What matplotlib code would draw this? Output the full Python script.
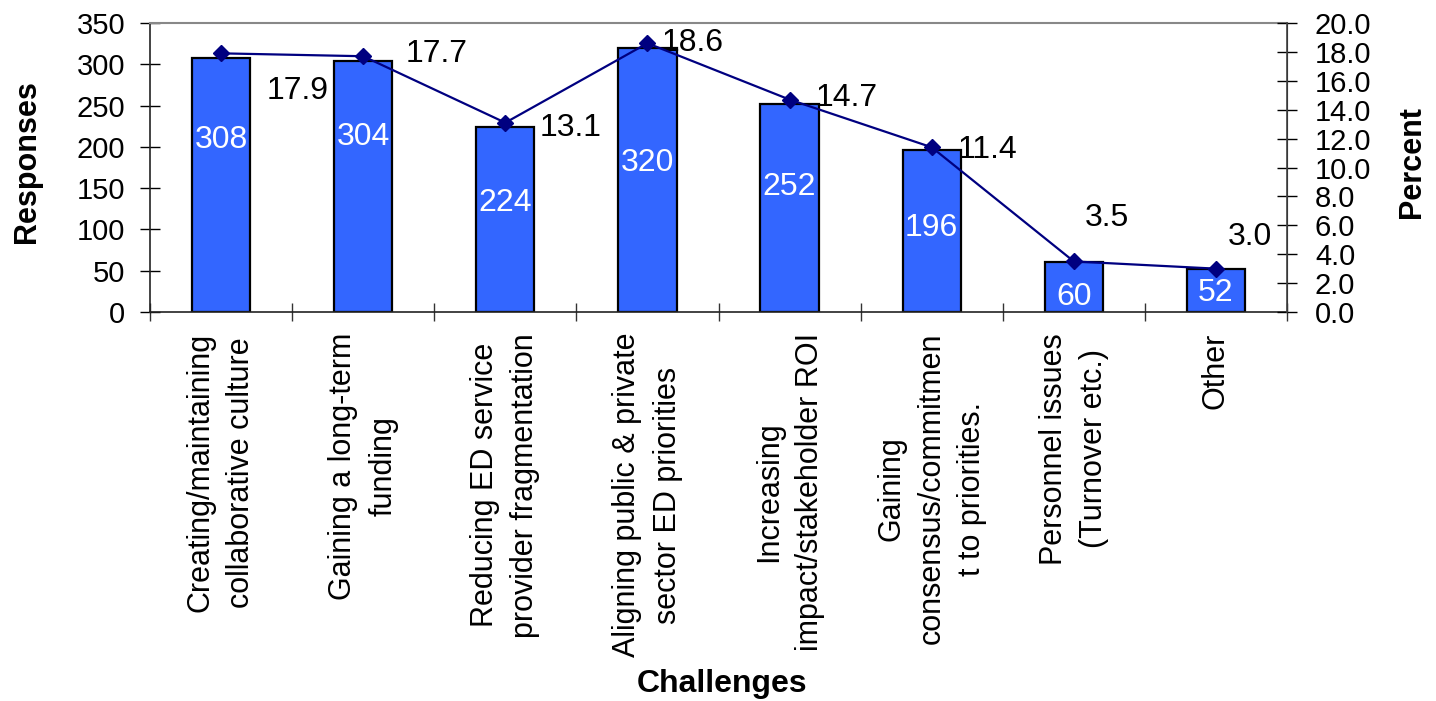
import matplotlib
matplotlib.use("Agg")
import matplotlib.pyplot as plt
import numpy as np
from matplotlib.ticker import MultipleLocator, FormatStrFormatter, FixedLocator

plt.rcParams['font.family'] = ['Liberation Sans', 'DejaVu Sans']

# Survey data
categories = [
    "Creating/maintaining\ncollaborative culture",
    "Gaining a long-term\nfunding",
    "Reducing ED service\nprovider fragmentation",
    "Aligning public & private\nsector ED priorities",
    "Increasing\nimpact/stakeholder ROI",
    "Gaining\nconsensus/commitmen\nt to priorities.",
    "Personnel issues\n(Turnover etc.)",
    "Other",
]
responses = [308, 304, 224, 320, 252, 196, 60, 52]
percent = [17.9, 17.7, 13.1, 18.6, 14.7, 11.4, 3.5, 3.0]

# Label placement (vertical position of counts inside bars, offsets of percent labels)
count_label_y = [208, 212, 132, 180, 151, 102, 18, 23]
pct_label_offsets = [(46, -38), (42, 2), (34, -5), (14, 0), (26, 2), (26, -3), (11, 43), (12, 32)]

bar_color = "#3366FF"
line_color = "#000080"

W, H = 1436, 701
fig = plt.figure(figsize=(W / 100, H / 100), dpi=100)
ax = fig.add_axes([150 / W, 1 - 312 / H, 1137 / W, 289 / H])
ax2 = ax.twinx()

x = np.arange(len(categories))
ax.bar(x, responses, width=0.41, color=bar_color, edgecolor="black", linewidth=1.6, zorder=2)
for xi, v, ly in zip(x, responses, count_label_y):
    ax.text(xi, ly, str(v), color="white", fontsize=23, ha="center", va="center", zorder=3)

ax.set_xlim(-0.5, len(categories) - 0.5)
ax.set_ylim(0, 350)
ax.yaxis.set_major_locator(MultipleLocator(50))

ax2.plot(x, percent, color=line_color, linewidth=1.6, marker="D", markersize=8,
         markerfacecolor=line_color, markeredgecolor=line_color, zorder=4)
for xi, p, (dx, dy) in zip(x, percent, pct_label_offsets):
    ax2.annotate(f"{p:.1f}", (xi, p), xytext=(dx, dy), textcoords="offset pixels",
                 fontsize=23, ha="left", va="center", color="black")
ax2.set_ylim(0, 20)
ax2.yaxis.set_major_locator(MultipleLocator(2))
ax2.yaxis.set_major_formatter(FormatStrFormatter("%.1f"))

# Category labels at bar centres, separator ticks between categories
ax.set_xticks(x)
ax.set_xticklabels(categories, rotation=90, ha="center", va="top", fontsize=22)
for t in ax.get_xticklabels():
    t.set_multialignment("center")
    t.set_linespacing(1.45)
ax.tick_params(axis="x", which="major", length=0, pad=15)
ax.xaxis.set_minor_locator(FixedLocator(np.arange(-0.5, len(categories) + 0.5, 1.0)))
ax.tick_params(axis="x", which="minor", direction="inout", length=13, width=1, color="#333333")

ax.tick_params(axis="y", which="both", left=True, right=False, labelleft=True, labelright=False,
               direction="inout", length=14, width=1, labelsize=21, pad=11)
ax2.tick_params(axis="y", which="both", left=False, right=True, labelleft=False, labelright=True,
                direction="inout", length=14, width=1, labelsize=21, pad=12)

for s in ("left", "bottom"):
    ax.spines[s].set_color("#222222")
    ax.spines[s].set_linewidth(1.2)
ax.spines["top"].set_color("#888888")
ax.spines["top"].set_linewidth(1.5)
ax2.spines["top"].set_visible(False)
ax2.spines["right"].set_color("#444444")
ax2.spines["right"].set_linewidth(1.2)
ax2.spines["left"].set_visible(False)
ax2.spines["bottom"].set_visible(False)

ax.set_ylabel("Responses", fontsize=22, fontweight="bold", va="center")
ax.yaxis.set_label_coords((27 - 150) / 1137, 0.52)
ax2.set_ylabel("Percent", fontsize=22, fontweight="bold", va="center", rotation=90)
ax2.yaxis.set_label_coords((1412 - 150) / 1137, 0.52)
fig.text(722 / W, 1 - 684 / H, "Challenges", fontsize=23, fontweight="bold",
         ha="center", va="center")

# Fine-tune tick label gaps so the numbers sit at a fixed distance from the spines
fig.canvas.draw()
renderer = fig.canvas.get_renderer()
px_per_pt = fig.dpi / 72.0

left_edges = [tk.label1.get_window_extent(renderer).x1
              for tk in ax.yaxis.get_major_ticks() if tk.label1.get_text()]
if left_edges:
    shift = max(left_edges) - 125
    ax.tick_params(axis="y", pad=11 + shift / px_per_pt)

right_edges = [tk.label2.get_window_extent(renderer).x0
               for tk in ax2.yaxis.get_major_ticks() if tk.label2.get_text()]
if right_edges:
    shift = 1315 - min(right_edges)
    ax2.tick_params(axis="y", pad=12 + shift / px_per_pt)

fig.savefig("out.png", dpi=100)
